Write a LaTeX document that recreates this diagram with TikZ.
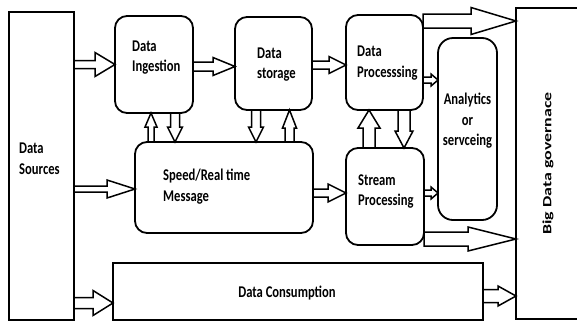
\documentclass[tikz,border=0pt]{standalone}
\usepackage{fontspec}
\setmainfont{Carlito}
\usepackage{graphicx}
\usetikzlibrary{calc,backgrounds}
\newcommand\tx[2][l]{\scalebox{1}[1.3]{\begin{tabular}{@{}#1@{}}#2\end{tabular}}}
\newcommand\blockarrow[5]{% start, end, shaft half, head length, head half
  \path ($(#2)!#4!(#1)$) coordinate (ba-h);
  \draw[barrow] ($(#1)!#3!90:(#2)$) -- ($(ba-h)!#3!90:(#2)$) -- ($(ba-h)!#5!90:(#2)$) -- (#2)
     -- ($(ba-h)!#5!-90:(#2)$) -- ($(ba-h)!#3!-90:(#2)$) -- ($(#1)!#3!-90:(#2)$) -- cycle;
}
\begin{document}
\begin{tikzpicture}[x=1pt,y=-1pt,
  box/.style={draw,line width=1.8pt,outer sep=0pt},
  rbox/.style={box,rounded corners=12pt},
  txt/.style={font=\fontsize{12.6}{15.4}\selectfont\bfseries,inner sep=0pt},
  barrow/.style={draw,fill=white,line width=1.5pt,line join=miter}]
\useasboundingbox (0,0) rectangle (577,322);

% boxes
\node[box,minimum width=65pt,minimum height=308pt] (ds) at (41.5,166) {};
\node[rbox,minimum width=78pt,minimum height=97pt] (ing) at (154,64.5) {};
\node[rbox,minimum width=77pt,minimum height=93pt] (sto) at (273.5,63.5) {};
\node[rbox,minimum width=77pt,minimum height=95pt] (proc) at (384.5,62.5) {};
\node[rbox,rounded corners=15pt,minimum width=59pt,minimum height=182pt] (ana) at (467.5,129) {};
\node[box,minimum width=64pt,minimum height=311pt] (gov) at (548,163.5) {};
\node[rbox,minimum width=178pt,minimum height=91pt] (spd) at (224,187.5) {};
\node[rbox,minimum width=78pt,minimum height=97pt] (str) at (385,196.5) {};
\node[box,minimum width=370pt,minimum height=57pt] (con) at (298,291.5) {};

% texts
\node[txt,anchor=west] at (19,160) {\tx{Data\\Sources}};
\node[txt,anchor=west] at (132,57.5) {\tx{Data\\Ingestion}};
\node[txt,anchor=west] at (257,64.5) {\tx{Data\\storage}};
\node[txt,anchor=west] at (357,63) {\tx{Data\\Processsing}};
\node[txt] at (467.5,121) {\tx[c]{Analytics\\or\\servceing}};
\node[txt,anchor=west] at (163,187) {\tx{Speed/Real time\\Message}};
\node[txt,anchor=west] at (358,191.5) {\tx{Stream\\Processing}};
\node[txt] at (287,293) {\tx{Data Consumption}};
\node[txt,rotate=90] at (gov.center) {\scalebox{1.42}[1]{Big Data governace}};

% connector end points
\coordinate (a1s) at (ds.east |- ing.west);
\coordinate (a2s) at ($(ing.east)+(0,2)$); \coordinate (a2e) at (sto.west |- a2s);
\coordinate (a3s) at ($(sto.east)+(0,1.5)$); \coordinate (a3e) at (proc.west |- a3s);
\coordinate (a4s) at ($(proc.east)+(0,17.5)$); \coordinate (a4e) at (ana.west |- a4s);
\coordinate (a5s) at ($(proc.east)+(0,-41.5)$); \coordinate (a5e) at (gov.west |- a5s);
\coordinate (a6s) at ($(spd.east)+(0,5.5)$); \coordinate (a6e) at (str.west |- a6s);
\coordinate (a7s) at ($(str.east)+(0,-3.5)$); \coordinate (a7e) at (ana.west |- a7s);
\coordinate (a8s) at ($(str.east)+(0,42.5)$); \coordinate (a8e) at (gov.west |- a8s);
\coordinate (a9e) at ($(spd.west)+(0,1.5)$); \coordinate (a9s) at (ds.east |- a9e);
\coordinate (a10e) at ($(con.west)+(0,11.5)$); \coordinate (a10s) at (ds.east |- a10e);
\coordinate (a11s) at ($(con.east)+(0,4.5)$); \coordinate (a11e) at (gov.west |- a11s);
\coordinate (a12e) at ($(ing.south)+(-3,0)$); \coordinate (a12s) at (spd.north -| a12e);
\coordinate (a13s) at ($(ing.south)+(21,0)$); \coordinate (a13e) at (spd.north -| a13s);
\coordinate (a14s) at ($(sto.south)+(-17.5,0)$); \coordinate (a14e) at (spd.north -| a14s);
\coordinate (a15e) at ($(sto.south)+(16,0)$); \coordinate (a15s) at (spd.north -| a15e);
\coordinate (a16e) at ($(proc.south)+(-15.5,0)$); \coordinate (a16s) at (str.north -| a16e);
\coordinate (a17s) at ($(proc.south)+(19.5,0)$); \coordinate (a17e) at (str.north -| a17s);

\begin{pgfonlayer}{background}
\blockarrow{a1s}{ing.west}{4pt}{20pt}{12pt}
\blockarrow{a2s}{a2e}{4.5pt}{22pt}{9pt}
\blockarrow{a3s}{a3e}{4pt}{17pt}{8.5pt}
\blockarrow{a4s}{a4e}{3pt}{7pt}{6pt}
\blockarrow{a5s}{a5e}{7pt}{45pt}{13.5pt}
\blockarrow{a6s}{a6e}{4pt}{18pt}{9pt}
\blockarrow{a7s}{a7e}{3pt}{7pt}{6pt}
\blockarrow{a8s}{a8e}{7pt}{48pt}{12pt}
\blockarrow{a9s}{a9e}{3pt}{28pt}{9pt}
\blockarrow{a10s}{a10e}{5.5pt}{20pt}{12.5pt}
\blockarrow{a11s}{a11e}{6.5pt}{18pt}{10pt}
\blockarrow{a12s}{a12e}{3pt}{14pt}{6pt}
\blockarrow{a13s}{a13e}{4.5pt}{15pt}{7.5pt}
\blockarrow{a14s}{a14e}{4.5pt}{15pt}{7.5pt}
\blockarrow{a15s}{a15e}{4.5pt}{18pt}{7pt}
\blockarrow{a16s}{a16e}{6pt}{18pt}{11pt}
\blockarrow{a17s}{a17e}{6pt}{17pt}{9pt}
\end{pgfonlayer}
\end{tikzpicture}
\end{document}
